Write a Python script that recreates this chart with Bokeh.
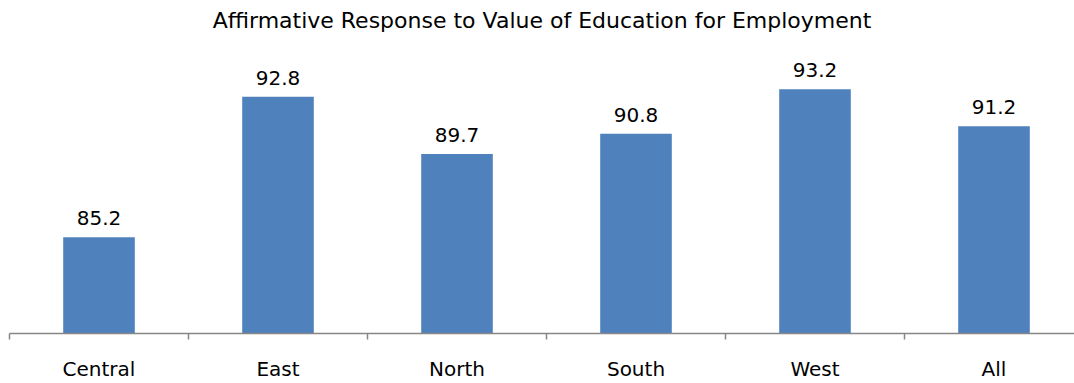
from bokeh.plotting import figure
from bokeh.models import ColumnDataSource, Range1d, FixedTicker, LinearAxis
from bokeh.embed import file_html
from bokeh.resources import INLINE
from bokeh.core.properties import value

categories = ["Central", "East", "North", "South", "West", "All"]
values = [85.2, 92.8, 89.7, 90.8, 93.2, 91.2]
labels = ["85.2", "92.8", "89.7", "90.8", "93.2", "91.2"]

xs = [i + 0.5 for i in range(len(categories))]
src = ColumnDataSource(dict(x=xs, top=values, lab=labels))

FONT = "DejaVu Sans"
p = figure(width=1074, height=383, output_backend="svg", toolbar_location=None,
           x_range=Range1d(0, 1065 / 179), y_range=Range1d(80, 96),
           min_border_left=9, min_border_right=0, min_border_bottom=49, min_border_top=37,
           x_axis_location=None, y_axis_location=None)
p.title.text = "Affirmative Response to Value of Education for Employment"
p.title.align = "center"
p.title.text_font = FONT
p.title.text_font_size = "22px"
p.title.text_font_style = "normal"
p.title.text_color = "#000000"
p.title.offset = -9
p.outline_line_color = None
p.xgrid.visible = False
p.ygrid.visible = False

p.vbar(x="x", top="top", bottom=80, width=0.4, source=src, fill_color="#4F81BD", line_color=None)
p.text(x="x", y="top", text="lab", source=src, text_align="center", text_baseline="bottom",
       y_offset=-12, text_font=value(FONT), text_font_size="20px", text_color="#000000")

ax = LinearAxis()
ax.ticker = FixedTicker(ticks=xs, minor_ticks=list(range(len(categories) + 1)))
ax.major_label_overrides = {x: c for x, c in zip(xs, categories)}
ax.major_tick_out = 0
ax.major_tick_in = 0
ax.minor_tick_out = 6
ax.minor_tick_in = 0
ax.minor_tick_line_color = "#868686"
ax.axis_line_color = "#868686"
ax.axis_line_width = 1.5
ax.minor_tick_line_width = 1.5
ax.major_label_text_font = FONT
ax.major_label_text_font_size = "20px"
ax.major_label_text_color = "#000000"
ax.major_label_standoff = 17
p.add_layout(ax, "below")

open("out.html", "w").write(file_html(p, INLINE))
